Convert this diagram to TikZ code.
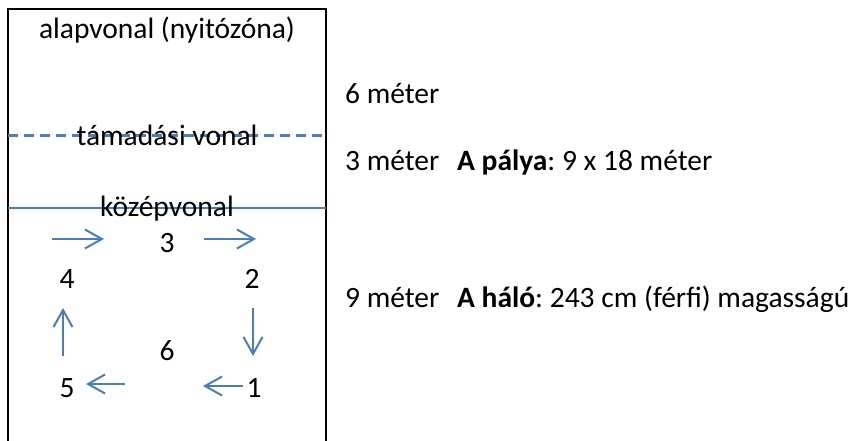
\documentclass[tikz,border=0pt]{standalone}
\usepackage{fontspec}
\setmainfont{Carlito}
\usetikzlibrary{arrows.meta}
\definecolor{ablue}{HTML}{4A7EBB}
\frenchspacing
\tikzset{
  lbl/.style={inner sep=0pt, font=\fontsize{29.5}{34}\selectfont, anchor=base},
  lbll/.style={lbl, anchor=base west},
  bluearrow/.style={draw=ablue, line width=2pt, -{Straight Barb[length=17pt,width=19pt,line width=2pt]}},
}
\begin{document}
\begin{tikzpicture}[x=1pt,y=-1pt]
\useasboundingbox (0,0) rectangle (855,440);
\draw[line width=2.2pt] (8,9) rectangle (326,450);
\coordinate (dl) at (8,135.5);
\coordinate (dr) at (326,135.5);
\coordinate (ml) at (8,208);
\coordinate (mr) at (326,208);
\draw[draw=ablue, line width=2.2pt, dash pattern=on 10pt off 6pt] (dl) -- (dr);
\draw[draw=ablue, line width=2pt] (ml) -- (mr);
\node[lbl] (alap) at (167,38) {alapvonal (nyitózóna)};
\node[lbl] (tam) at (167,145) {támadási vonal};
\node[lbl] (koz) at (167,216) {középvonal};
\node[lbl] (n3) at (167,252) {3};
\node[lbl] (n4) at (67,288) {4};
\node[lbl] (n2) at (252,288) {2};
\node[lbl] (n6) at (167,360) {6};
\node[lbl] (n5) at (67,397) {5};
\node[lbl] (n1) at (254,397) {1};
\coordinate (a1s) at (52,239); \coordinate (a1e) at (104,239);
\coordinate (a2s) at (204,239); \coordinate (a2e) at (256,239);
\coordinate (a3s) at (253,308); \coordinate (a3e) at (253,356);
\coordinate (a4s) at (243,386); \coordinate (a4e) at (203,386);
\coordinate (a5s) at (125,384); \coordinate (a5e) at (86,384);
\coordinate (a6s) at (63,356); \coordinate (a6e) at (63,308);
\draw[bluearrow] (a1s) -- (a1e);
\draw[bluearrow] (a2s) -- (a2e);
\draw[bluearrow] (a3s) -- (a3e);
\draw[bluearrow] (a4s) -- (a4e);
\draw[bluearrow] (a5s) -- (a5e);
\draw[bluearrow] (a6s) -- (a6e);
\node[lbll] (m6) at (345,103) {6 méter};
\node[lbll] (m3) at (345,170) {3 méter};
\node[lbll] (palya) at (457,170) {\textbf{A pálya}: 9 x 18 méter};
\node[lbll] (m9) at (345,307) {9 méter};
\node[lbll] (halo) at (457,307) {\textbf{A háló}: 243 cm (férfi) magasságú};
\end{tikzpicture}
\end{document}
